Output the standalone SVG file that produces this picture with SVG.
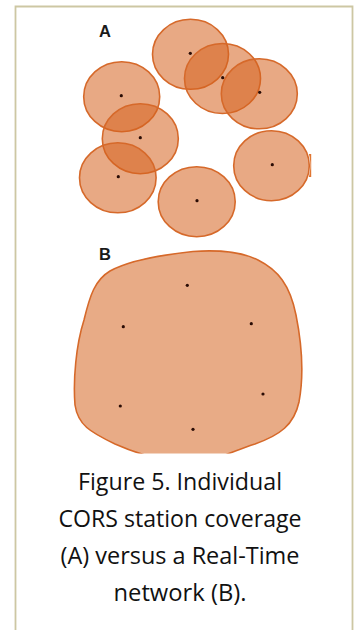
<svg xmlns="http://www.w3.org/2000/svg" width="358" height="630" viewBox="0 0 358 630">
<style>
.cov{fill:#d5631f;fill-opacity:0.55;stroke:#d6692a;stroke-width:1.6}
.blob{fill:#e8ab86;stroke:#d6692a;stroke-width:1.6}
.dot{fill:#2a0c05}
.lbl{font-family:"Liberation Sans",Arial,sans-serif;font-weight:bold;font-size:16.5px;fill:#1a1a1a}
.cap{font-family:"Open Sans","Noto Sans",sans-serif;font-size:23.5px;fill:#111;text-anchor:middle}
</style>
<defs>
<clipPath id="clipB"><rect x="0" y="0" width="358" height="453.5"/></clipPath>
</defs>
<rect x="0" y="0" width="358" height="630" fill="#fff"/>
<path d="M15.5,630 V6.5 H352.5 V630" fill="none" stroke="#cdc7a3" stroke-width="1.8"/>
<g id="panelA">
<text class="lbl" x="99" y="37">A</text>
<g id="station1"><ellipse class="cov" cx="190.5" cy="54.3" rx="38" ry="35"/></g>
<g id="station2"><ellipse class="cov" cx="222.5" cy="78.5" rx="38" ry="35"/></g>
<g id="station3"><ellipse class="cov" cx="259.3" cy="93.8" rx="38" ry="35"/></g>
<g id="station4"><ellipse class="cov" cx="121.7" cy="96.7" rx="38" ry="35"/></g>
<g id="station5"><ellipse class="cov" cx="140.3" cy="138.7" rx="38" ry="35"/></g>
<g id="station6"><ellipse class="cov" cx="117.8" cy="177.8" rx="38.3" ry="35"/></g>
<g id="station7"><ellipse class="cov" cx="271.5" cy="165.7" rx="37.8" ry="35"/>
<path d="M308.8,154 C310.8,159 311,171 308.8,177 L311.2,177 L311.2,154 Z" fill="#e07632"/></g>
<g id="station8"><ellipse class="cov" cx="196.7" cy="201.7" rx="38.5" ry="35"/></g>
<circle class="dot" cx="190.3" cy="53.3" r="1.6"/>
<circle class="dot" cx="222.7" cy="77.7" r="1.6"/>
<circle class="dot" cx="259.7" cy="92.3" r="1.6"/>
<circle class="dot" cx="121.3" cy="95.7" r="1.6"/>
<circle class="dot" cx="140.3" cy="137.7" r="1.6"/>
<circle class="dot" cx="118.3" cy="176.7" r="1.6"/>
<circle class="dot" cx="272.3" cy="164.7" r="1.6"/>
<circle class="dot" cx="197" cy="200.7" r="1.6"/>
</g>
<g id="panelB">
<text class="lbl" x="99" y="260">B</text>
<g id="network" clip-path="url(#clipB)">
<path class="blob" d="M193,251.5 C215,250 240,251 258,260 C278,270 290,285 296,315 C302,345 304,375 299,402 C294,425 280,435 255,444 C230,452 215,462 190,462 C165,462 140,455 115,444 C90,432 78,425 75,405 C73,380 76,345 84,320 C90,295 95,280 110,271 C130,260 160,255 193,251.5 Z"/>
</g>
<circle class="dot" cx="187.3" cy="285.3" r="1.6"/>
<circle class="dot" cx="123.3" cy="326.7" r="1.6"/>
<circle class="dot" cx="251.3" cy="323.7" r="1.6"/>
<circle class="dot" cx="263" cy="394" r="1.6"/>
<circle class="dot" cx="120.3" cy="406" r="1.6"/>
<circle class="dot" cx="193" cy="429.3" r="1.6"/>
</g>
<g id="caption">
<text class="cap" x="180" y="489.5" textLength="204" lengthAdjust="spacingAndGlyphs">Figure 5. Individual</text>
<text class="cap" x="180" y="526.5" textLength="243" lengthAdjust="spacingAndGlyphs">CORS station coverage</text>
<text class="cap" x="180" y="563.5" textLength="239" lengthAdjust="spacingAndGlyphs">(A) versus a Real-Time</text>
<text class="cap" x="180" y="600.5" textLength="133" lengthAdjust="spacingAndGlyphs">network (B).</text>
</g>
</svg>
